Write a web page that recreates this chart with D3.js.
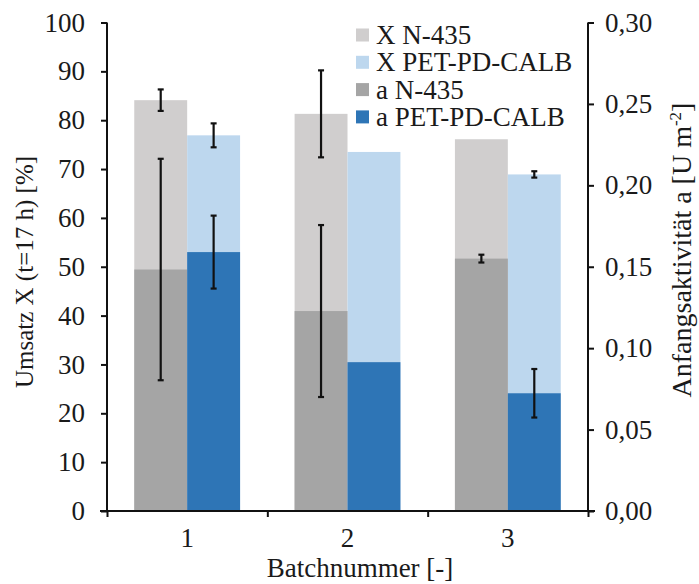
<!DOCTYPE html>
<html><head><meta charset="utf-8">
<script src="https://cdn.jsdelivr.net/npm/d3@7"></script>
<style>
body{margin:0;background:#fff;}
svg text{font-family:"Liberation Serif","Times New Roman",serif !important;fill:#1a1a1a;}
</style></head>
<body><svg id="c" width="699" height="584"></svg>
<script>
const categories = ["1","2","3"];
const xN435 = [84.1, 81.3, 76.1];
const xN435Err = [2.2, 8.9, 0];
const xPET = [76.9, 73.5, 68.9];
const xPETErr = [2.45, 0, 0.65];
const aN435 = [0.1483, 0.1228, 0.155];
const aN435Err = [0.068, 0.0528, 0.0024];
const aPET = [0.159, 0.0914, 0.0723];
const aPETErr = [0.0224, 0, 0.0149];
const leftTicks = [0,10,20,30,40,50,60,70,80,90,100];
const rightTicks = [0,0.05,0.10,0.15,0.20,0.25,0.30];
const legendLabels = ["X N-435","X PET-PD-CALB","a N-435","a PET-PD-CALB"];
const colors = ["#d0cece","#bdd7ee","#a5a5a5","#2e75b6"];

const svg = d3.select("#c");
const L = 107, R = 588, T = 22.5, B = 511;
const FS = 27;

const x = d3.scaleBand().domain(categories).range([L,R]).paddingInner(0.34).paddingOuter(0.17);
const xs = d3.scaleBand().domain([0,1]).range([0,x.bandwidth()]);
const yL = d3.scaleLinear().domain([0,100]).range([B,T]);
const yR = d3.scaleLinear().domain([0,0.30]).range([B,T]);

const series = [
  {vals:xN435, err:xN435Err, scale:yL, sub:0, color:colors[0]},
  {vals:xPET, err:xPETErr, scale:yL, sub:1, color:colors[1]},
  {vals:aN435, err:aN435Err, scale:yR, sub:0, color:colors[2]},
  {vals:aPET, err:aPETErr, scale:yR, sub:1, color:colors[3]}
];

series.forEach(s=>{
  svg.append("g").selectAll("rect").data(s.vals).join("rect")
    .attr("x",(d,i)=>x(categories[i])+xs(s.sub))
    .attr("width",xs.bandwidth())
    .attr("y",d=>s.scale(d))
    .attr("height",d=>B-s.scale(d))
    .attr("fill",s.color);
});
series.forEach(s=>{
  const g = svg.append("g").attr("stroke","#111").attr("stroke-width",2.2);
  s.vals.forEach((d,i)=>{
    if(!s.err[i]) return;
    const cx = x(categories[i])+xs(s.sub)+xs.bandwidth()/2;
    const y1 = s.scale(d+s.err[i]), y2 = s.scale(d-s.err[i]);
    g.append("line").attr("x1",cx).attr("x2",cx).attr("y1",y1).attr("y2",y2);
    g.append("line").attr("x1",cx-3).attr("x2",cx+3).attr("y1",y1).attr("y2",y1);
    g.append("line").attr("x1",cx-3).attr("x2",cx+3).attr("y1",y2).attr("y2",y2);
  });
});

// axes
const axL = d3.axisLeft(yL).tickValues(leftTicks).tickSize(6).tickPadding(16).tickFormat(d3.format("d"));
const gL = svg.append("g").attr("transform",`translate(${L},0)`).call(axL);
const axR = d3.axisRight(yR).tickValues(rightTicks).tickSize(6).tickPadding(11).tickFormat(d=>d3.format(".2f")(d).replace(".",","));
const gR = svg.append("g").attr("transform",`translate(${R},0)`).call(axR);
const xb = d3.scaleLinear().domain([0,3]).range([L,R]);
const axB = d3.axisBottom(xb).tickValues([0,1,2,3]).tickSize(6).tickFormat("");
const gB = svg.append("g").attr("transform",`translate(0,${B})`).call(axB);
[gL,gR,gB].forEach(g=>{
  g.attr("font-family",null).attr("font-size",null);
  g.selectAll("path.domain").attr("stroke","#111").attr("stroke-width",2);
  g.selectAll(".tick line").attr("stroke","#111").attr("stroke-width",2);
  g.selectAll("text").attr("font-size",FS).attr("fill","#1a1a1a");
});
gB.select("path.domain").attr("d",`M${L-7},0H${R+7}`);
gL.select("path.domain").attr("d",`M0,${T}V${B}`);
gR.select("path.domain").attr("d",`M0,${T}V${B}`);

svg.append("g").selectAll("text").data(categories).join("text")
  .attr("x",d=>x(d)+x.bandwidth()/2).attr("y",546.5)
  .attr("text-anchor","middle").attr("font-size",FS).text(d=>d);

svg.append("text").attr("x",360).attr("y",577).attr("text-anchor","middle")
  .attr("font-size",FS).text("Batchnummer [-]");
svg.append("text").attr("transform","translate(33,272) rotate(-90)")
  .attr("text-anchor","middle").attr("font-size",25).text("Umsatz X (t=17 h) [%]");
const rt = svg.append("text").attr("transform","translate(691,250) rotate(-90)")
  .attr("text-anchor","middle").attr("font-size",28);
rt.append("tspan").text("Anfangsaktivität a [U m");
rt.append("tspan").attr("dy",-10).attr("font-size",17).text("-2");
rt.append("tspan").attr("dy",10).text("]");

// legend
const lg = svg.append("g");
legendLabels.forEach((t,i)=>{
  const cy = 35 + i*27.3;
  lg.append("rect").attr("x",356).attr("y",cy-6.5).attr("width",13).attr("height",13).attr("fill",colors[i]);
  lg.append("text").attr("x",376).attr("y",cy+9).attr("font-size",FS).text(t);
});
</script></body></html>
